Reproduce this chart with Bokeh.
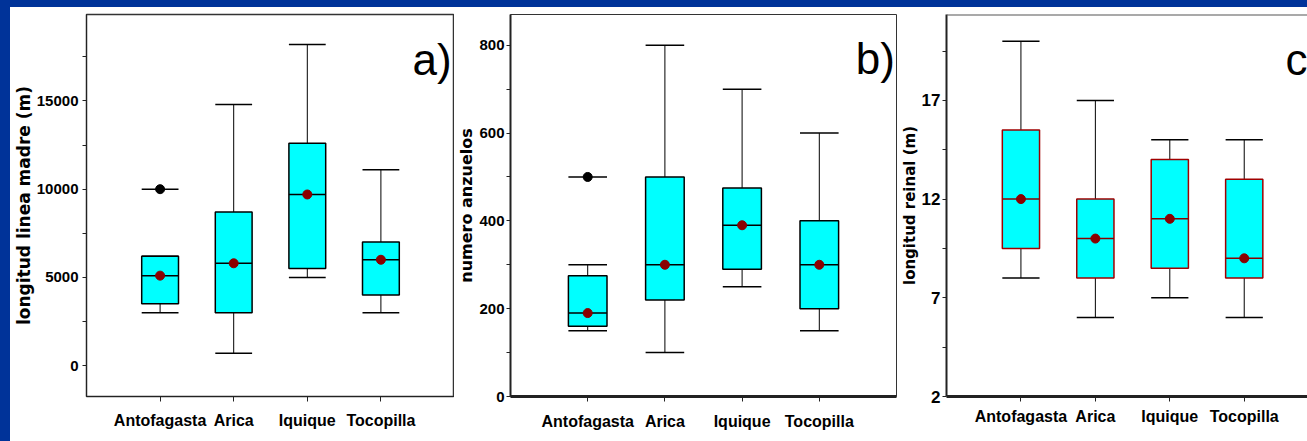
from bokeh.plotting import figure
from bokeh.models import FixedTicker, ColumnDataSource, Label, Spacer, Span, GlobalInlineStyleSheet
from bokeh.layouts import row, column
from bokeh.embed import file_html
from bokeh.resources import INLINE

categories = ["Antofagasta", "Arica", "Iquique", "Tocopilla"]

# a) longitud linea madre (m)
a_low = [3000, 700, 5000, 3000]
a_q1 = [3500, 3000, 5500, 4000]
a_median = [5100, 5800, 9700, 6000]
a_q3 = [6200, 8700, 12600, 7000]
a_high = [6200, 14800, 18200, 11100]
a_mean = [5100, 5800, 9700, 6000]
a_outlier_cat = ["Antofagasta"]
a_outlier_val = [10000]
a_ticks = [0, 5000, 10000, 15000]
a_minor = [2500, 7500, 12500, 17500]

# b) numero anzuelos
b_low = [150, 100, 250, 150]
b_q1 = [160, 220, 290, 200]
b_median = [190, 300, 390, 300]
b_q3 = [275, 500, 475, 400]
b_high = [300, 800, 700, 600]
b_mean = [190, 300, 390, 300]
b_outlier_cat = ["Antofagasta"]
b_outlier_val = [500]
b_ticks = [0, 200, 400, 600, 800]
b_minor = [100, 300, 500, 700]

# c) longitud reinal (m)
c_low = [8, 6, 7, 6]
c_q1 = [9.5, 8, 8.5, 8]
c_median = [12, 10, 11, 9]
c_q3 = [15.5, 12, 14, 13]
c_high = [20, 17, 15, 15]
c_mean = [12, 10, 11, 9]
c_outlier_cat = []
c_outlier_val = []
c_ticks = [2, 7, 12, 17]
c_minor = [4.5, 9.5, 14.5, 19.5]

CYAN = "#00ffff"
DARKRED = "#8b0000"
BLUE = "#003399"
FONT = "Liberation Sans"
HW = 0.25
TOP = 7
H = 434


def panel(width, mb, x_end, y_range, low, q1, med, q3, high, mean,
          out_cat, out_val, ticks, minor, ylabel, ylabel_size, tick_size, tick_standoff,
          box_line, median_color, letter, letter_x, letter_y, axis_w, xstandoff):
    xs = [i + 1 for i in range(len(categories))]
    p = figure(width=width, height=H, x_range=(0, x_end), y_range=y_range,
               output_backend="svg", toolbar_location=None,
               min_border_left=mb[0], min_border_right=mb[1],
               min_border_top=mb[2], min_border_bottom=mb[3])
    p.background_fill_color = "white"
    p.border_fill_color = "white"
    p.xgrid.visible = False
    p.ygrid.visible = False

    src = ColumnDataSource(dict(
        x=xs, left=[x - HW for x in xs], right=[x + HW for x in xs],
        low=low, q1=q1, med=med, q3=q3, high=high, mean=mean))
    p.segment(x0="x", y0="q3", x1="x", y1="high", source=src, line_color="black", line_width=1)
    p.segment(x0="x", y0="low", x1="x", y1="q1", source=src, line_color="black", line_width=1)
    p.segment(x0="left", y0="high", x1="right", y1="high", source=src, line_color="black", line_width=1.5)
    p.segment(x0="left", y0="low", x1="right", y1="low", source=src, line_color="black", line_width=1.5)
    p.quad(left="left", right="right", bottom="q1", top="q3", source=src,
           fill_color=CYAN, line_color=box_line, line_width=1.5)
    p.segment(x0="left", y0="med", x1="right", y1="med", source=src,
              line_color=median_color, line_width=1.5)
    p.scatter(x="x", y="mean", source=src, size=9, marker="circle",
              fill_color=DARKRED, line_color=DARKRED)
    if out_cat:
        ox = [categories.index(c) + 1 for c in out_cat]
        osrc = ColumnDataSource(dict(x=ox, left=[x - HW for x in ox],
                                     right=[x + HW for x in ox], y=out_val))
        p.segment(x0="left", y0="y", x1="right", y1="y", source=osrc,
                  line_color="black", line_width=1.5)
        p.scatter(x="x", y="y", source=osrc, size=9, marker="circle",
                  fill_color="black", line_color="black")

    p.xaxis.ticker = FixedTicker(ticks=xs)
    p.xaxis.major_label_overrides = {x: c for x, c in zip(xs, categories)}
    p.xaxis.minor_tick_line_color = None
    p.xaxis.major_tick_out = 5
    p.xaxis.major_tick_in = 0
    p.xaxis.major_label_standoff = xstandoff
    p.xaxis.major_label_text_font = FONT
    p.xaxis.major_label_text_font_style = "bold"
    p.xaxis.major_label_text_font_size = "16px"
    p.xaxis.major_label_text_color = "black"
    p.xaxis.axis_line_width = axis_w[1]
    p.xaxis.axis_line_color = "#222222"
    p.xaxis.major_tick_line_color = "#222222"

    p.yaxis.ticker = FixedTicker(ticks=ticks, minor_ticks=minor)
    p.yaxis.major_tick_out = 4
    p.yaxis.major_tick_in = 0
    p.yaxis.minor_tick_out = 4
    p.yaxis.minor_tick_in = 0
    p.yaxis.major_label_standoff = tick_standoff
    p.yaxis.major_label_text_font = FONT
    p.yaxis.major_label_text_font_style = "bold"
    p.yaxis.major_label_text_font_size = tick_size
    p.yaxis.major_label_text_color = "black"
    p.yaxis.axis_line_width = axis_w[0]
    p.yaxis.axis_line_color = "#222222"
    p.yaxis.major_tick_line_color = "#222222"
    p.yaxis.minor_tick_line_color = "#222222"
    p.yaxis.axis_label = ylabel
    p.yaxis.axis_label_text_font = "DejaVu Sans"
    p.yaxis.axis_label_text_font_style = "bold"
    p.yaxis.axis_label_text_font_size = ylabel_size
    p.yaxis.axis_label_text_color = "black"
    p.yaxis.axis_label_standoff = 0

    p.add_layout(Label(x=letter_x, y=letter_y, text=letter, text_font=FONT,
                       text_font_size="44px", text_color="black",
                       text_baseline="alphabetic", text_align="right"))
    return p


pa = panel(444, (76, 0, 5, H + TOP - 396), 5, (-1750, 19900),
           a_low, a_q1, a_median, a_q3, a_high, a_mean, a_outlier_cat, a_outlier_val,
           a_ticks, a_minor, "longitud linea madre (m)", "17px", "15px", 4,
           "black", "black", "a)", 4.96, 17362, (1, 1), 10)
pa.outline_line_color = "#333333"
pa.outline_line_width = 1.5

pb = panel(443, (54, 1, 5, H + TOP - 398), 5, (0, 870),
           b_low, b_q1, b_median, b_q3, b_high, b_mean, b_outlier_cat, b_outlier_val,
           b_ticks, b_minor, "numero anzuelos", "16px", "15px", 2,
           "black", "black", "b)", 4.98, 769, (2, 3), 11)
pb.outline_line_color = "#333333"
pb.outline_line_width = 1

pc = panel(410, (46, 0, 7, H + TOP - 401), 4.85, (2, 21.35),
           c_low, c_q1, c_median, c_q3, c_high, c_mean, c_outlier_cat, c_outlier_val,
           c_ticks, c_minor, "longitud reinal (m)", "15px", "17px", 2,
           "#a00000", DARKRED, "c", 4.85, 19.05, (2, 3), 6)
pc.outline_line_color = None
pc.add_layout(Span(location=21.35, dimension="width", line_color="#555555", line_width=2))

top_band = Spacer(width=1307, height=TOP, styles={"background-color": BLUE})
left_band = Spacer(width=10, height=H, styles={"background-color": BLUE})

layout = column(top_band, row(left_band, pa, pb, pc))
layout.stylesheets = [GlobalInlineStyleSheet(css="html,body{background:#ffffff;}")]

open("out.html", "w").write(file_html(layout, INLINE))
